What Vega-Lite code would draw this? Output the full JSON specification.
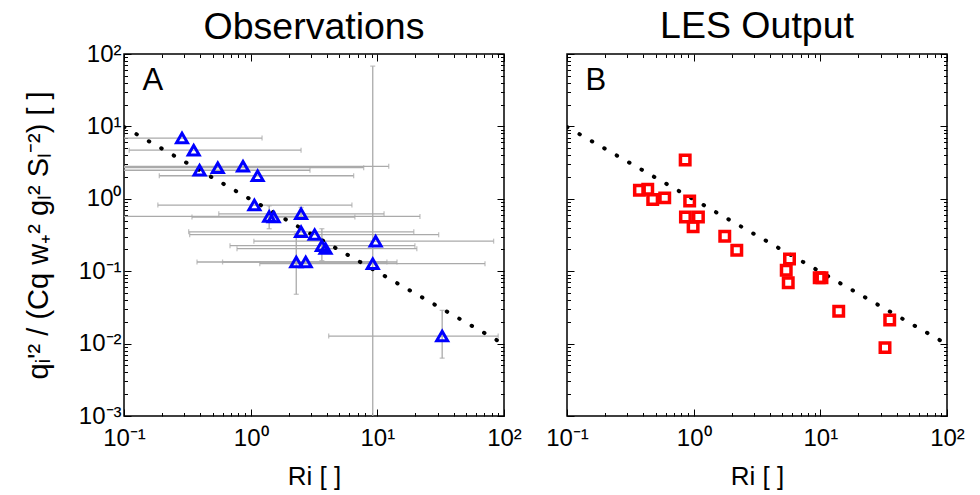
{
  "$schema": "https://vega.github.io/schema/vega-lite/v6.json",
  "background": "white",
  "padding": {"left": 23, "top": 7, "right": 5, "bottom": 5},
  "config": {
    "font": "Liberation Sans",
    "view": {"stroke": "black", "strokeWidth": 1.5},
    "axis": {"grid": false, "domain": false, "minExtent": 0, "tickColor": "black", "tickWidth": 1, "labelColor": "black", "titleColor": "black", "labelFont": "Liberation Sans", "titleFont": "Liberation Sans", "labelFontSize": 24, "titleFontSize": 26, "titleFontWeight": "normal", "labelOverlap": false, "labelFlush": false, "labelBound": false},
    "title": {"font": "Liberation Sans", "fontSize": 37.5, "fontWeight": "normal", "color": "black", "anchor": "middle", "frame": "group", "baseline": "alphabetic", "offset": -4}
  },
  "datasets": {
    "obs": [
      {"x": 0.287, "y": 6.9, "xmin": 0.05, "xmax": 1.23},
      {"x": 0.355, "y": 4.7, "xmin": 0.11, "xmax": 2.5},
      {"x": 0.395, "y": 2.48, "xmin": 0.05, "xmax": 2.94},
      {"x": 0.55, "y": 2.69, "xmin": 0.05, "xmax": 7.8},
      {"x": 0.87, "y": 2.81, "xmin": 0.05, "xmax": 12.3},
      {"x": 1.135, "y": 2.08, "xmin": 0.19, "xmax": 6.5},
      {"x": 1.07, "y": 0.82, "xmin": 0.185, "xmax": 6.3},
      {"x": 1.4, "y": 0.57, "xmin": 0.05, "xmax": 21.7, "ymin": 0.386, "ymax": 0.8},
      {"x": 1.52, "y": 0.56, "xmin": 0.344, "xmax": 6.65},
      {"x": 2.5, "y": 0.62, "xmin": 0.56, "xmax": 11.3, "ymin": 0.52, "ymax": 0.76},
      {"x": 2.5, "y": 0.35, "xmin": 0.324, "xmax": 19.4},
      {"x": 3.2, "y": 0.32, "xmin": 0.33, "xmax": 30.5},
      {"x": 3.65, "y": 0.225, "xmin": 0.687, "xmax": 19.8, "ymin": 0.14, "ymax": 0.386},
      {"x": 3.9, "y": 0.205, "xmin": 0.78, "xmax": 20.5},
      {"x": 9.7, "y": 0.26, "xmin": 1.06, "xmax": 82.8},
      {"x": 9.2, "y": 0.127, "xmin": 1.18, "xmax": 70.8, "ymin": 0.0003, "ymax": 68},
      {"x": 2.29, "y": 0.134, "xmin": 0.377, "xmax": 14.3, "ymin": 0.048, "ymax": 0.33},
      {"x": 2.72, "y": 0.134, "xmin": 0.6, "xmax": 11.9},
      {"x": 32.5, "y": 0.0127, "xmin": 4.13, "xmax": 90, "ymin": 0.0063, "ymax": 0.0288}
    ],
    "les": [
      {"x": 0.857, "y": 3.44},
      {"x": 0.373, "y": 1.31},
      {"x": 0.434, "y": 1.35},
      {"x": 0.475, "y": 0.98},
      {"x": 0.591, "y": 1.03},
      {"x": 0.93, "y": 0.93},
      {"x": 0.861, "y": 0.56},
      {"x": 1.09, "y": 0.56},
      {"x": 0.99, "y": 0.41},
      {"x": 1.76, "y": 0.303},
      {"x": 2.19, "y": 0.195},
      {"x": 5.71, "y": 0.147},
      {"x": 5.38, "y": 0.103},
      {"x": 5.58, "y": 0.069},
      {"x": 9.8, "y": 0.081},
      {"x": 10.3, "y": 0.081},
      {"x": 13.97, "y": 0.028},
      {"x": 35.3, "y": 0.0212},
      {"x": 32.4, "y": 0.0088}
    ],
    "fit": [
      {"x": 0.1, "y": 9.8},
      {"x": 100, "y": 0.0098}
    ]
  },
  "spacing": 21,
  "hconcat": [
    {
      "width": 380,
      "height": 362,
      "title": "Observations",
      "resolve": {"axis": {"x": "independent", "y": "independent"}},
      "layer": [
        {
          "data": {"name": "obs"},
          "mark": {"type": "rule", "color": "#aaaaaa", "strokeWidth": 1.3, "clip": true},
          "encoding": {
            "x": {"field": "xmin", "type": "quantitative", "scale": {"type": "log", "domain": [0.1, 100], "nice": false},
              "axis": {"orient": "bottom", "title": "Ri [ ]", "values": [0.1,0.2,0.3,0.4,0.5,0.6,0.7,0.8,0.9,1,2,3,4,5,6,7,8,9,10,20,30,40,50,60,70,80,90,100],
                "labelExpr": "datum.value==0.1?'10⁻¹':datum.value==1?'10⁰':datum.value==10?'10¹':datum.value==100?'10²':''",
                "tickSize": {"condition": {"test": "indexof([0.001,0.01,0.1,1,10,100], datum.value) >= 0", "value": -7}, "value": -3.5},
                "labelPadding": 17, "titlePadding": 10}},
            "x2": {"field": "xmax"},
            "y": {"field": "y", "type": "quantitative", "scale": {"type": "log", "domain": [0.001, 100], "nice": false},
              "axis": {"orient": "left", "title": "qᵢ'² / (Cq w₊² gₗ² Sₗ⁻²) [ ]", "values": [0.001,0.002,0.003,0.004,0.005,0.006,0.007,0.008,0.009,0.01,0.02,0.03,0.04,0.05,0.06,0.07,0.08,0.09,0.1,0.2,0.3,0.4,0.5,0.6,0.7,0.8,0.9,1,2,3,4,5,6,7,8,9,10,20,30,40,50,60,70,80,90,100],
                "labelExpr": "datum.value==0.001?'10⁻³':datum.value==0.01?'10⁻²':datum.value==0.1?'10⁻¹':datum.value==1?'10⁰':datum.value==10?'10¹':datum.value==100?'10²':''",
                "tickSize": {"condition": {"test": "indexof([0.001,0.01,0.1,1,10,100], datum.value) >= 0", "value": -7}, "value": -3.5},
                "labelPadding": 10, "titlePadding": 25, "titleFontSize": 29}}
          }
        },
        {
          "data": {"name": "obs"},
          "transform": [{"filter": "isValid(datum.ymin)"}],
          "mark": {"type": "rule", "color": "#aaaaaa", "strokeWidth": 1.3, "clip": true},
          "encoding": {
            "x": {"field": "x", "type": "quantitative",
              "axis": {"orient": "top", "title": null, "labels": false, "values": [0.1,0.2,0.3,0.4,0.5,0.6,0.7,0.8,0.9,1,2,3,4,5,6,7,8,9,10,20,30,40,50,60,70,80,90,100],
                "tickSize": {"condition": {"test": "indexof([0.001,0.01,0.1,1,10,100], datum.value) >= 0", "value": -7}, "value": -3.5}}},
            "y": {"field": "ymin", "type": "quantitative",
              "axis": {"orient": "right", "title": null, "labels": false, "values": [0.001,0.002,0.003,0.004,0.005,0.006,0.007,0.008,0.009,0.01,0.02,0.03,0.04,0.05,0.06,0.07,0.08,0.09,0.1,0.2,0.3,0.4,0.5,0.6,0.7,0.8,0.9,1,2,3,4,5,6,7,8,9,10,20,30,40,50,60,70,80,90,100],
                "tickSize": {"condition": {"test": "indexof([0.001,0.01,0.1,1,10,100], datum.value) >= 0", "value": -7}, "value": -3.5}}},
            "y2": {"field": "ymax"}
          }
        },
        {
          "data": {"name": "obs"},
          "transform": [{"fold": ["xmin", "xmax"], "as": ["end", "xe"]}],
          "mark": {"type": "tick", "orient": "vertical", "color": "#aaaaaa", "size": 5, "thickness": 1.3, "clip": true},
          "encoding": {
            "x": {"field": "xe", "type": "quantitative", "axis": null},
            "y": {"field": "y", "type": "quantitative", "axis": null}
          }
        },
        {
          "data": {"name": "obs"},
          "transform": [{"filter": "isValid(datum.ymin)"}, {"fold": ["ymin", "ymax"], "as": ["end", "ye"]}],
          "mark": {"type": "tick", "orient": "horizontal", "color": "#aaaaaa", "size": 5, "thickness": 1.3, "clip": true},
          "encoding": {
            "x": {"field": "x", "type": "quantitative", "axis": null},
            "y": {"field": "ye", "type": "quantitative", "axis": null}
          }
        },
        {
          "data": {"name": "fit"},
          "mark": {"type": "line", "color": "black", "strokeWidth": 4, "strokeDash": [0.5, 13.8], "strokeCap": "round", "clip": true},
          "encoding": {
            "x": {"field": "x", "type": "quantitative", "axis": null},
            "y": {"field": "y", "type": "quantitative", "axis": null}
          }
        },
        {
          "data": {"name": "obs"},
          "mark": {"type": "point", "shape": "triangle-up", "filled": false, "color": "#0000ff", "strokeWidth": 3, "size": 120, "opacity": 1},
          "encoding": {
            "x": {"field": "x", "type": "quantitative", "axis": null},
            "y": {"field": "y", "type": "quantitative", "axis": null}
          }
        },
        {
          "data": {"values": [{}]},
          "mark": {"type": "text", "text": "A", "fontSize": 31, "align": "left", "baseline": "alphabetic", "color": "black"},
          "encoding": {
            "x": {"datum": 0.14, "type": "quantitative", "axis": null},
            "y": {"datum": 32, "type": "quantitative", "axis": null}
          }
        }
      ]
    },
    {
      "width": 380,
      "height": 362,
      "title": {"text": "LES Output", "dy": -12},
      "resolve": {"axis": {"x": "independent", "y": "independent"}},
      "layer": [
        {
          "data": {"name": "fit"},
          "mark": {"type": "line", "color": "black", "strokeWidth": 4, "strokeDash": [0.5, 13.8], "strokeCap": "round", "clip": true},
          "encoding": {
            "x": {"field": "x", "type": "quantitative", "scale": {"type": "log", "domain": [0.1, 100], "nice": false},
              "axis": {"orient": "bottom", "title": "Ri [ ]", "values": [0.1,0.2,0.3,0.4,0.5,0.6,0.7,0.8,0.9,1,2,3,4,5,6,7,8,9,10,20,30,40,50,60,70,80,90,100],
                "labelExpr": "datum.value==0.1?'10⁻¹':datum.value==1?'10⁰':datum.value==10?'10¹':datum.value==100?'10²':''",
                "tickSize": {"condition": {"test": "indexof([0.001,0.01,0.1,1,10,100], datum.value) >= 0", "value": -7}, "value": -3.5},
                "labelPadding": 17, "titlePadding": 10}},
            "y": {"field": "y", "type": "quantitative", "scale": {"type": "log", "domain": [0.001, 100], "nice": false},
              "axis": {"orient": "left", "title": null, "labels": false, "values": [0.001,0.002,0.003,0.004,0.005,0.006,0.007,0.008,0.009,0.01,0.02,0.03,0.04,0.05,0.06,0.07,0.08,0.09,0.1,0.2,0.3,0.4,0.5,0.6,0.7,0.8,0.9,1,2,3,4,5,6,7,8,9,10,20,30,40,50,60,70,80,90,100],
                "tickSize": {"condition": {"test": "indexof([0.001,0.01,0.1,1,10,100], datum.value) >= 0", "value": -7}, "value": -3.5}}}
          }
        },
        {
          "data": {"name": "les"},
          "mark": {"type": "point", "shape": "square", "filled": false, "color": "#ff0000", "strokeWidth": 3.5, "size": 90, "opacity": 1},
          "encoding": {
            "x": {"field": "x", "type": "quantitative",
              "axis": {"orient": "top", "title": null, "labels": false, "values": [0.1,0.2,0.3,0.4,0.5,0.6,0.7,0.8,0.9,1,2,3,4,5,6,7,8,9,10,20,30,40,50,60,70,80,90,100],
                "tickSize": {"condition": {"test": "indexof([0.001,0.01,0.1,1,10,100], datum.value) >= 0", "value": -7}, "value": -3.5}}},
            "y": {"field": "y", "type": "quantitative",
              "axis": {"orient": "right", "title": null, "labels": false, "values": [0.001,0.002,0.003,0.004,0.005,0.006,0.007,0.008,0.009,0.01,0.02,0.03,0.04,0.05,0.06,0.07,0.08,0.09,0.1,0.2,0.3,0.4,0.5,0.6,0.7,0.8,0.9,1,2,3,4,5,6,7,8,9,10,20,30,40,50,60,70,80,90,100],
                "tickSize": {"condition": {"test": "indexof([0.001,0.01,0.1,1,10,100], datum.value) >= 0", "value": -7}, "value": -3.5}}}
          }
        },
        {
          "data": {"values": [{}]},
          "mark": {"type": "text", "text": "B", "fontSize": 31, "align": "left", "baseline": "alphabetic", "color": "black"},
          "encoding": {
            "x": {"datum": 0.14, "type": "quantitative", "axis": null},
            "y": {"datum": 32, "type": "quantitative", "axis": null}
          }
        }
      ]
    }
  ]
}
